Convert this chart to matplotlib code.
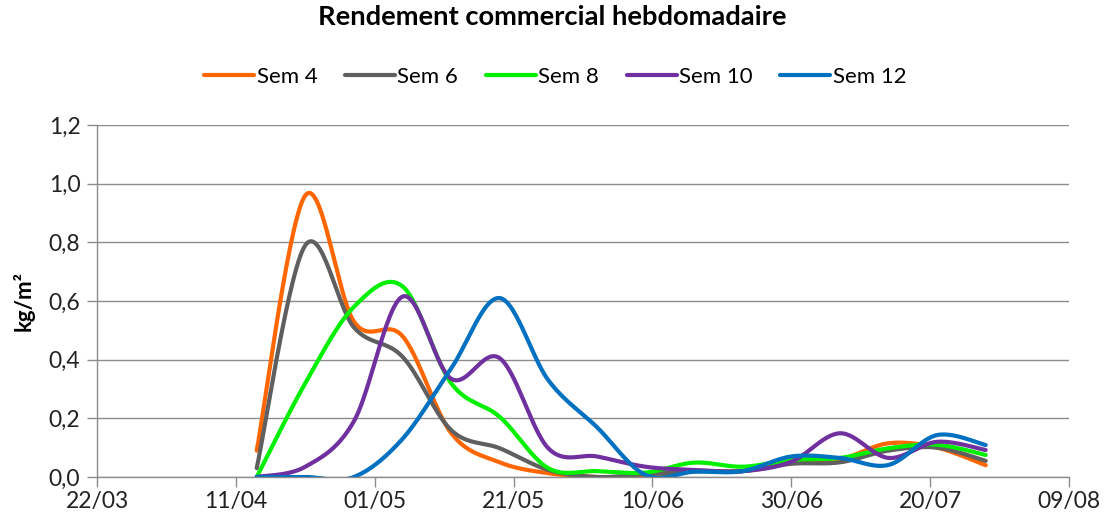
import numpy as np
import pandas as pd
import matplotlib
matplotlib.use("Agg")
import matplotlib.pyplot as plt
import matplotlib.dates as mdates
from matplotlib.ticker import FuncFormatter

plt.rcParams['font.family'] = ['Lato', 'DejaVu Sans']

# weekly harvest dates (first one 14/04)
dates = pd.date_range("2013-04-14", periods=16, freq="7D")

sem4 = [0.09, 0.96, 0.53, 0.48, 0.15, 0.05, 0.013, 0.0, 0.0, 0.02, 0.02, 0.05, 0.06, 0.115, 0.10, 0.04]
sem6 = [0.03, 0.79, 0.51, 0.41, 0.16, 0.098, 0.024, 0.0, 0.01, 0.02, 0.02, 0.045, 0.05, 0.09, 0.10, 0.055]
sem8 = [0.0, 0.32, 0.58, 0.65, 0.32, 0.205, 0.03, 0.02, 0.015, 0.049, 0.035, 0.058, 0.065, 0.098, 0.11, 0.075]
sem10 = [0.0, 0.035, 0.19, 0.615, 0.335, 0.405, 0.098, 0.07, 0.035, 0.024, 0.02, 0.052, 0.149, 0.065, 0.12, 0.092]
sem12 = [0.0, 0.0, 0.0, 0.13, 0.37, 0.61, 0.33, 0.17, 0.007, 0.018, 0.02, 0.07, 0.065, 0.041, 0.143, 0.109]

series = [("Sem 4", sem4, "#FF6600"),
          ("Sem 6", sem6, "#5F5F5F"),
          ("Sem 8", sem8, "#00F000"),
          ("Sem 10", sem10, "#7030A0"),
          ("Sem 12", sem12, "#0070C0")]

tick_labels = ["22/03", "11/04", "01/05", "21/05", "10/06", "30/06", "20/07", "09/08"]
tick_dates = pd.date_range("2013-03-22", periods=8, freq="20D")


def smooth(x, y, n=30):
    # Catmull-Rom like Excel "smoothed line"
    x = np.asarray(x, float)
    y = np.asarray(y, float)
    xp = np.concatenate([[x[0]], x, [x[-1]]])
    yp = np.concatenate([[y[0]], y, [y[-1]]])
    xs, ys = [], []
    t = np.linspace(0, 1, n, endpoint=False)
    for i in range(1, len(xp) - 2):
        for arr, out in ((xp, xs), (yp, ys)):
            p0, p1, p2, p3 = arr[i - 1], arr[i], arr[i + 1], arr[i + 2]
            m1 = (p2 - p0) / 2
            m2 = (p3 - p1) / 2
            h00 = 2 * t**3 - 3 * t**2 + 1
            h10 = t**3 - 2 * t**2 + t
            h01 = -2 * t**3 + 3 * t**2
            h11 = t**3 - t**2
            out.extend(h00 * p1 + h10 * m1 + h01 * p2 + h11 * m2)
    xs.append(x[-1])
    ys.append(y[-1])
    return np.array(xs), np.array(ys)


fig = plt.figure(figsize=(11.04, 5.24), dpi=100)
ax = fig.add_axes([0.0879, 0.0897, 0.8804, 0.6718])

xnum = mdates.date2num(dates)
for name, vals, col in series:
    sx, sy = smooth(xnum, vals)
    ax.plot(sx, sy, color=col, lw=3, label=name, solid_capstyle="round", solid_joinstyle="round")

ax.set_xlim(mdates.date2num(tick_dates[0]), mdates.date2num(tick_dates[-1]))
ax.set_ylim(0, 1.2)
ax.set_xticks(mdates.date2num(tick_dates))
ax.set_xticklabels(tick_labels)
ax.set_yticks(np.arange(0, 1.21, 0.2))
ax.yaxis.set_major_formatter(FuncFormatter(lambda v, p: f"{v:.1f}".replace(".", ",")))

ax.grid(axis="y", color="#8C8C8C", lw=1)
ax.set_axisbelow(True)
for s in ["top", "right"]:
    ax.spines[s].set_visible(False)
for s in ["left", "bottom"]:
    ax.spines[s].set_color("#8C8C8C")
    ax.spines[s].set_linewidth(1)
ax.tick_params(axis="both", colors="#8C8C8C", labelcolor="#222222", labelsize=16.5, length=7, width=1)
ax.tick_params(axis="x", pad=3)
ax.tick_params(axis="y", pad=5)

ax.set_ylabel("kg/m²", fontsize=16, fontweight="bold", labelpad=10)

fig.suptitle("Rendement commercial hebdomadaire", x=0.5, y=0.99, fontsize=19.7, fontweight="bold")
fig.legend(loc="center", bbox_to_anchor=(0.503, 0.853), ncol=5, frameon=False, fontsize=16,
           handlelength=2.25, handletextpad=0.1, columnspacing=1.25)

fig.savefig("out.png", dpi=100)
